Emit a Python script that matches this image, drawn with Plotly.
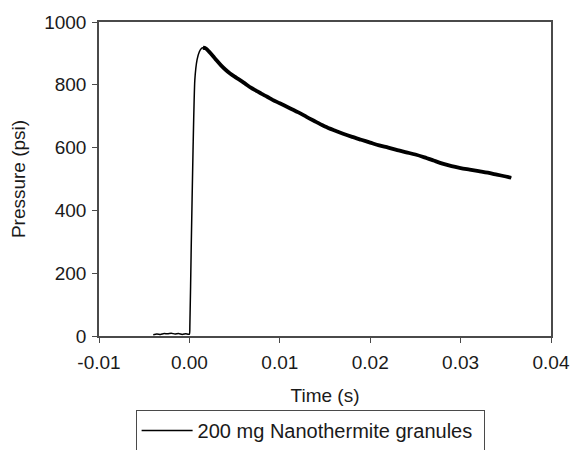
import plotly.graph_objects as go

# Baseline before ignition (s, psi)
t_base = [-0.0040, -0.0036, -0.0032, -0.0028, -0.0024, -0.0020, -0.0016, -0.0012, -0.0008, -0.0004, 0.0000]
p_base = [4, 6, 5, 8, 7, 9, 6, 8, 5, 7, 6]

# Rise to peak
t_rise = [0.00005, 0.0002, 0.0004, 0.0006, 0.00085, 0.0011, 0.0013, 0.0015]
p_rise = [30, 280, 590, 815, 880, 905, 915, 918]

# Decay after peak
t_decay = [0.0015, 0.0018, 0.0022, 0.0026, 0.0030, 0.0035, 0.0040, 0.0045, 0.0050, 0.0056,
           0.0062, 0.0068, 0.0074, 0.0080, 0.0086, 0.0092, 0.0100, 0.0110, 0.0120, 0.0130,
           0.0140, 0.0150, 0.0160, 0.0170, 0.0180, 0.0190, 0.0200, 0.0210, 0.0220, 0.0230,
           0.0240, 0.0250, 0.0260, 0.0270, 0.0280, 0.0290, 0.0300, 0.0310, 0.0320, 0.0330,
           0.0340, 0.0350, 0.0356]
p_decay = [918, 916, 905, 892, 878, 862, 848, 836, 826, 815,
           803, 791, 781, 771, 762, 752, 741, 727, 713, 697,
           682, 667, 655, 644, 634, 625, 616, 607, 600, 592,
           585, 578, 569, 559, 549, 541, 535, 530, 525, 520,
           514, 508, 504]

series_name = "200 mg Nanothermite granules"

x_ticks = [-0.01, 0.00, 0.01, 0.02, 0.03, 0.04]
x_tick_labels = ["-0.01", "0.00", "0.01", "0.02", "0.03", "0.04"]
y_ticks = [0, 200, 400, 600, 800, 1000]

font_family = "Liberation Sans, Arial, sans-serif"
axis_color = "#4a4a4a"
text_color = "#1a1a1a"

t_all = t_base + t_rise + t_decay[1:]
p_all = p_base + p_rise + p_decay[1:]

fig = go.Figure()
fig.add_trace(go.Scatter(
    x=t_all, y=p_all, mode="lines", name=series_name,
    line=dict(color="black", width=1.5, shape="spline", smoothing=0.5), showlegend=True,
))
fig.add_trace(go.Scatter(
    x=t_decay, y=p_decay, mode="lines", name=series_name,
    line=dict(color="black", width=3.8, shape="spline", smoothing=0.8),
    showlegend=False, hoverinfo="skip",
))

fig.update_layout(
    width=571, height=450,
    margin=dict(l=99, r=20, t=22, b=114, autoexpand=False),
    paper_bgcolor="white", plot_bgcolor="white",
    font=dict(family=font_family, size=19, color=text_color),
    showlegend=True,
    legend=dict(
        orientation="h", entrywidth=281, entrywidthmode="pixels",
        x=0.081, y=-0.2357, xanchor="left", yanchor="top",
        bordercolor=axis_color, borderwidth=1, bgcolor="white",
        itemwidth=51,
        font=dict(family=font_family, size=20, color=text_color),
    ),
    xaxis=dict(
        range=[-0.01, 0.04], tickvals=x_ticks, ticktext=x_tick_labels,
        showgrid=False, zeroline=False, automargin=False,
        showline=True, linecolor=axis_color, linewidth=1.5, mirror=True,
        ticks="outside", ticklen=5, tickcolor=axis_color, ticklabelstandoff=3,
        tickfont=dict(family=font_family, size=19, color=text_color),
        title=dict(text="Time (s)", standoff=17,
                   font=dict(family=font_family, size=19, color=text_color)),
    ),
    yaxis=dict(
        range=[0, 1000], tickvals=y_ticks,
        showgrid=False, zeroline=False, automargin=False,
        showline=True, linecolor=axis_color, linewidth=1.5, mirror=True,
        ticks="outside", ticklen=5, tickcolor=axis_color, ticklabelstandoff=2,
        tickfont=dict(family=font_family, size=19, color=text_color),
        title=dict(text="Pressure (psi)", standoff=14,
                   font=dict(family=font_family, size=19, color=text_color)),
    ),
)

fig.write_html("out.html", config={"displayModeBar": False},
               post_script="document.body.style.margin='0px';")
